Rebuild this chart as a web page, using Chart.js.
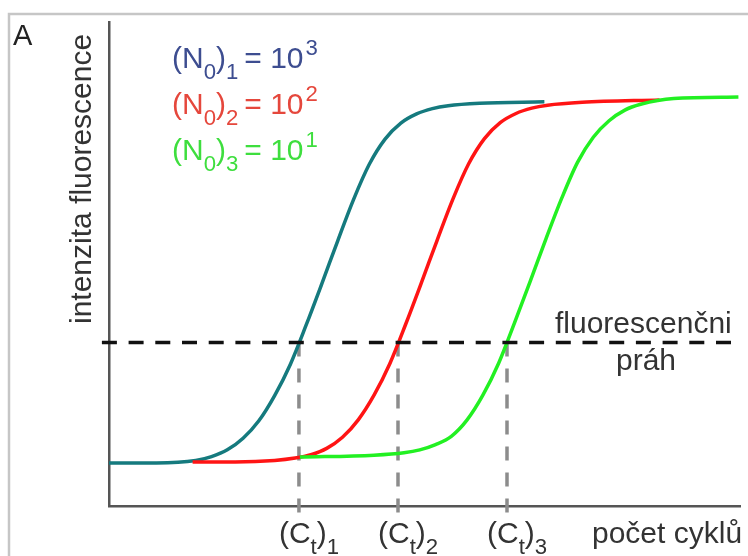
<!DOCTYPE html>
<html>
<head>
<meta charset="utf-8">
<script src="https://cdn.jsdelivr.net/npm/chart.js@4"></script>
<style>
  body { margin: 0; background: #fff; }
</style>
</head>
<body>
<canvas id="graph" width="748" height="556"></canvas>
<script>
// Curves (x = cycle, y = fluorescence, 0..100)
const tealX = [0, 3.0, 5.5, 6.5, 7.5, 8.5, 9.5, 10.5, 11.5, 12.5, 13.5, 14.5, 15.5, 16.5, 17.5, 18.5, 19.5, 20.5, 21.5, 23.5, 27.6];
const tealY = [8.9, 8.9, 9.4, 10.2, 11.6, 14.0, 17.6, 22.8, 29.3, 37.4, 46.0, 54.8, 63.3, 70.6, 75.8, 79.1, 81.0, 82.1, 82.7, 83.2, 83.5];

const redX = [5.3, 8.0, 10.5, 11.8, 12.8, 13.8, 14.8, 15.8, 16.8, 17.8, 18.8, 19.8, 20.8, 21.8, 22.8, 23.8, 24.8, 25.8, 26.8, 27.8, 30.0, 34.9];
const redY = [9.1, 9.1, 9.4, 9.9, 10.6, 11.9, 14.2, 17.8, 22.9, 29.4, 37.5, 46.1, 54.9, 63.4, 70.7, 75.9, 79.2, 81.1, 82.2, 82.8, 83.4, 83.9];

const greenX = [12.1, 16.8, 18.7, 19.7, 20.7, 21.7, 22.7, 23.7, 24.7, 25.7, 26.7, 27.7, 28.7, 29.7, 30.7, 31.7, 32.7, 33.7, 35.8, 39.9];
const greenY = [10.1, 10.5, 11.0, 11.6, 12.7, 14.4, 17.8, 22.9, 29.5, 37.8, 46.4, 55.2, 63.6, 71.0, 76.2, 79.6, 81.8, 83.0, 84.2, 84.5];

const threshold = 33.8;
const ctValues = [12.04, 18.32, 25.23];
const ctIndex = ['1', '2', '3'];
const legendExp = ['3', '2', '1'];

const toPoints = (xs, ys) => xs.map((x, i) => ({ x: x, y: ys[i] }));

const font = '"Liberation Sans", Arial, sans-serif';

// draws text with sub/superscripts, parts: [text, kind] or a number as gap
function drawRich(ctx, x, y, parts, size, color) {
  ctx.fillStyle = color;
  ctx.textBaseline = 'alphabetic';
  ctx.textAlign = 'left';
  let cx = x;
  parts.forEach(p => {
    if (typeof p === 'number') { cx += p; return; }
    const [t, kind] = p;
    let s = size, dy = 0;
    if (kind === 'sub') { s = size * 0.74; dy = size * 0.36; }
    if (kind === 'sup') { s = size * 0.74; dy = -size * 0.42; }
    ctx.font = s + 'px ' + font;
    ctx.fillText(t, cx, y + dy);
    cx += ctx.measureText(t).width;
  });
}

const textPlugin = {
  id: 'texts',
  afterDraw(chart) {
    const ctx = chart.ctx;
    const xs = chart.scales.x;
    ctx.save();

    // frame
    ctx.strokeStyle = '#c6c6c6';
    ctx.lineWidth = 2.5;
    ctx.strokeRect(9, 14, 800, 600);

    ctx.fillStyle = '#222';
    ctx.font = '29px ' + font;
    ctx.fillText('A', 13, 45);

    // y title
    ctx.save();
    ctx.translate(91, 324);
    ctx.rotate(-Math.PI / 2);
    ctx.fillStyle = '#333';
    ctx.font = '30px ' + font;
    ctx.textAlign = 'left';
    ctx.fillText('intenzita fluorescence', 0, 0);
    ctx.restore();

    // legend
    const legendColors = ['#3d4d90', '#e5473c', '#3ede3e'];
    const legendBase = [68, 114, 160];
    legendColors.forEach((c, i) => {
      drawRich(ctx, 172, legendBase[i], [
        ['(N'], ['0', 'sub'], [')'], [ctIndex[i], 'sub'], 6, ['= 10'], 2, [legendExp[i], 'sup']
      ], 30, c);
    });

    // threshold label
    ctx.fillStyle = '#333';
    ctx.font = '30px ' + font;
    ctx.fillText('fluorescenčni', 555, 333);
    ctx.fillText('práh', 616, 370);

    // Ct labels
    ctValues.forEach((v, i) => {
      const px = xs.getPixelForValue(v);
      drawRich(ctx, px - 20, 543, [['(C'], ['t', 'sub'], [')'], [ctIndex[i], 'sub']], 30, '#333');
    });

    ctx.fillStyle = '#333';
    ctx.font = '30px ' + font;
    ctx.fillText('počet cyklů', 592, 543);
    ctx.restore();
  }
};

const ctLines = ctValues.map(v => ({
  data: [{ x: v, y: threshold }, { x: v, y: -1.45 }],
  borderColor: '#8c8c8c',
  borderWidth: 3.5,
  borderDash: [14, 12],
  pointRadius: 0,
  clip: false,
  order: 5
}));

new Chart(document.getElementById('graph').getContext('2d'), {
  type: 'line',
  data: {
    datasets: [
      {
        data: toPoints(tealX, tealY),
        borderColor: '#157a7e',
        borderWidth: 3.5,
        pointRadius: 0,
        cubicInterpolationMode: 'monotone',
        order: 4
      },
      {
        data: toPoints(redX, redY),
        borderColor: '#ff1414',
        borderWidth: 3.5,
        pointRadius: 0,
        cubicInterpolationMode: 'monotone',
        order: 3
      },
      {
        data: toPoints(greenX, greenY),
        borderColor: '#22f022',
        borderWidth: 3.5,
        pointRadius: 0,
        cubicInterpolationMode: 'monotone',
        order: 2
      },
      ...ctLines,
      {
        data: [{ x: -0.45, y: threshold }, { x: 39.8, y: threshold }],
        borderColor: '#111',
        borderWidth: 3.5,
        borderDash: [15, 11.7],
        pointRadius: 0,
        clip: false,
        order: 1
      }
    ]
  },
  options: {
    responsive: false,
    animation: false,
    layout: { padding: { left: 109, top: 22, right: 8, bottom: 50 } },
    scales: {
      x: {
        type: 'linear',
        min: 0,
        max: 40,
        grid: { display: false, drawTicks: false },
        ticks: { display: false },
        border: { display: true, color: '#555', width: 2.5 }
      },
      y: {
        min: 0,
        max: 100,
        grid: { display: false, drawTicks: false },
        ticks: { display: false },
        border: { display: true, color: '#555', width: 2.5 }
      }
    },
    plugins: {
      legend: { display: false },
      tooltip: { enabled: false }
    }
  },
  plugins: [textPlugin]
});
</script>
</body>
</html>
